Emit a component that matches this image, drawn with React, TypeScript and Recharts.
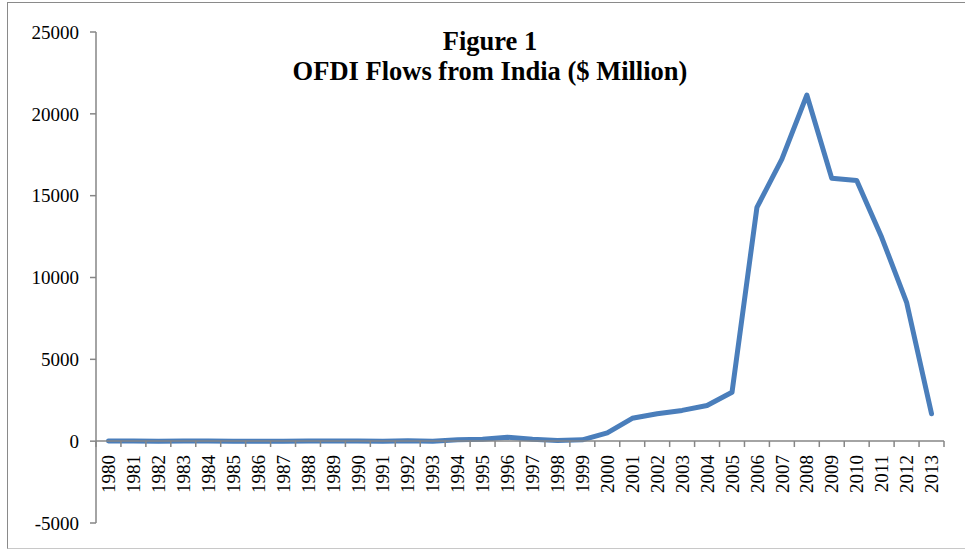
import React from 'react';
import { LineChart, Line, XAxis, YAxis } from 'recharts';

// Outward FDI flows from India, US$ million, 1980–2013
const years: string[] = [
  '1980', '1981', '1982', '1983', '1984', '1985', '1986', '1987', '1988', '1989',
  '1990', '1991', '1992', '1993', '1994', '1995', '1996', '1997', '1998', '1999',
  '2000', '2001', '2002', '2003', '2004', '2005', '2006', '2007', '2008', '2009',
  '2010', '2011', '2012', '2013',
];
const flows: number[] = [
  4, 6, 0, 5, 4, 2, -3, 1, 11, 10,
  6, -11, 24, 0, 82, 119, 240, 113, 48, 80,
  510, 1397, 1678, 1879, 2179, 2985, 14285, 17234, 21147, 16058,
  15933, 12456, 8486, 1679,
];
const yTicks: number[] = [-5000, 0, 5000, 10000, 15000, 20000, 25000];
const titleLines: string[] = ['Figure 1', 'OFDI Flows from India ($ Million)'];

const data = years.map((year, i) => ({ year, flow: flows[i] }));

const W = 965;
const H = 552;
const AXIS = '#868686';
const LINE = '#4a7ebb';
const FONT = '"Liberation Serif", "Times New Roman", serif';

// Category label rotated upright, with tick marks on the category boundaries
const YearTick = (props: any) => {
  const { x, y, payload, index, visibleTicksCount } = props;
  const half = payload && typeof payload.offset === 'number' ? payload.offset : 0;
  const axisY = y - 6;
  const last = index === visibleTicksCount - 1;
  return (
    <g>
      <line x1={x - half} x2={x - half} y1={axisY} y2={axisY + 6} stroke={AXIS} strokeWidth={1.5} />
      {last && (
        <line x1={x + half} x2={x + half} y1={axisY} y2={axisY + 6} stroke={AXIS} strokeWidth={1.5} />
      )}
      <text
        transform={`translate(${x},${y + 8}) rotate(-90)`}
        textAnchor="end"
        dy="0.35em"
        fill="#000"
        fontSize={19}
        fontFamily={FONT}
      >
        {payload.value}
      </text>
    </g>
  );
};

export default function App() {
  return (
    <div style={{ position: 'absolute', left: 0, top: 0, width: W, height: H, background: '#fff', overflow: 'hidden' }}>
      {/* frame */}
      <div
        style={{
          position: 'absolute',
          left: 7,
          top: 2,
          width: W + 20,
          height: 547,
          borderTop: '1.5px solid #8a8a8a',
          borderLeft: '1.5px solid #8a8a8a',
          borderBottom: '1.5px solid #c8c8c8',
          boxSizing: 'border-box',
        }}
      />

      {/* value axis and series */}
      <div style={{ position: 'absolute', left: 0, top: 0 }}>
        <LineChart width={W} height={H} data={data} margin={{ top: 32, right: 21, bottom: 29, left: 0 }}>
          <XAxis dataKey="year" scale="band" hide />
          <YAxis
            width={96}
            domain={[-5000, 25000]}
            ticks={yTicks}
            interval={0}
            tickSize={6}
            tickMargin={11}
            axisLine={{ stroke: AXIS, strokeWidth: 1.5 }}
            tickLine={{ stroke: AXIS, strokeWidth: 1.5 }}
            tick={{ fill: '#000', fontSize: 19, fontFamily: FONT }}
          />
          <Line
            dataKey="flow"
            stroke={LINE}
            strokeWidth={5}
            strokeLinecap="round"
            strokeLinejoin="round"
            dot={false}
            activeDot={false}
            isAnimationActive={false}
          />
        </LineChart>
      </div>

      {/* category axis crossing at zero */}
      <div style={{ position: 'absolute', left: 0, top: 0 }}>
        <LineChart width={W} height={H} data={data} margin={{ top: 32, right: 21, bottom: 11, left: 96 }}>
          <XAxis
            dataKey="year"
            scale="band"
            height={100}
            interval={0}
            tickSize={6}
            tickMargin={0}
            tickLine={false}
            axisLine={{ stroke: AXIS, strokeWidth: 1.5 }}
            tick={<YearTick />}
          />
          <YAxis hide domain={[0, 25000]} />
        </LineChart>
      </div>

      {/* title */}
      <div
        style={{
          position: 'absolute',
          left: 290,
          top: 26,
          width: 400,
          textAlign: 'center',
          fontFamily: FONT,
          fontWeight: 'bold',
          fontSize: 26.5,
          lineHeight: '30px',
          color: '#000',
          whiteSpace: 'nowrap',
        }}
      >
        {titleLines.map((t) => (
          <div key={t}>{t}</div>
        ))}
      </div>
    </div>
  );
}
